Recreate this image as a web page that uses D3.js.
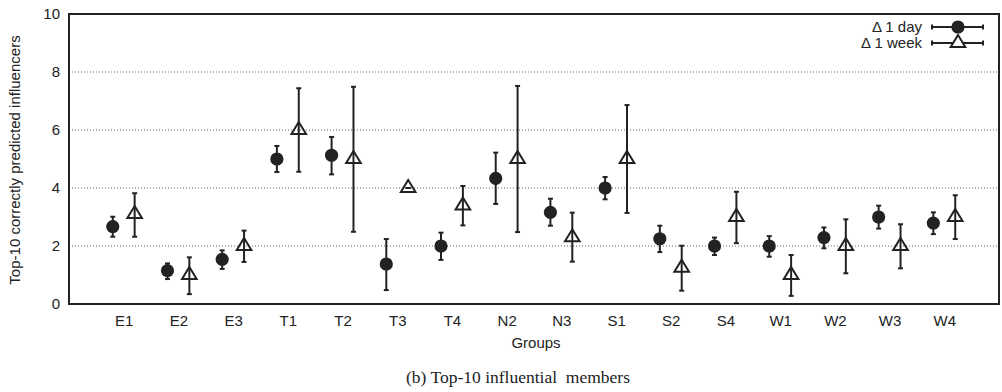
<!DOCTYPE html>
<html lang="en">

<head>
    <meta charset="utf-8">
    <title> Top-10 influencers </title>
    <script src="https://d3js.org/d3.v7.min.js"></script>
    <style>
        body { margin: 0; background: white; }
        text { font-family: "Liberation Sans", Arial, sans-serif; fill: #222; }
    </style>
</head>

<body>
    <div id="chart1"></div>

    <script>
        // data
        var groups = ["E1", "E2", "E3", "T1", "T2", "T3", "T4", "N2", "N3", "S1", "S2", "S4", "W1", "W2", "W3", "W4"];
        var dayMean = [2.67, 1.15, 1.54, 5.0, 5.13, 1.38, 2.0, 4.33, 3.16, 4.0, 2.25, 2.0, 2.0, 2.29, 3.0, 2.79];
        var dayLow = [2.32, 0.86, 1.21, 4.55, 4.47, 0.48, 1.52, 3.45, 2.70, 3.61, 1.79, 1.69, 1.63, 1.92, 2.60, 2.41];
        var dayHigh = [3.01, 1.40, 1.85, 5.45, 5.76, 2.24, 2.46, 5.22, 3.63, 4.38, 2.70, 2.29, 2.34, 2.64, 3.39, 3.16];
        var weekMean = [3.1, 1.0, 2.0, 6.0, 5.0, 4.0, 3.4, 5.0, 2.3, 5.0, 1.25, 3.0, 1.0, 2.0, 2.0, 3.0];
        var weekLow = [2.32, 0.34, 1.45, 4.56, 2.49, 4.0, 2.71, 2.48, 1.46, 3.14, 0.46, 2.10, 0.28, 1.06, 1.23, 2.24];
        var weekHigh = [3.82, 1.61, 2.53, 7.44, 7.49, 4.0, 4.07, 7.52, 3.15, 6.86, 2.01, 3.87, 1.69, 2.92, 2.75, 3.75];
        var yTicks = [0, 2, 4, 6, 8, 10];
        var gridTicks = [2, 4, 6, 8];

        var width = 1002,
            height = 392;
        var plot = { left: 69, right: 999, top: 14, bottom: 304 };
        var ink = "#222";

        var svg = d3.select("#chart1")
            .append("svg")
            .attr("width", width)
            .attr("height", height);

        var x = d3.scaleLinear().domain([0, 17]).range([plot.left, plot.right]);
        var y = d3.scaleLinear().domain([0, 10]).range([plot.bottom, plot.top]);

        // dotted grid lines
        svg.selectAll(".grid")
            .data(gridTicks)
            .enter()
            .append("line")
            .attr("x1", plot.left)
            .attr("x2", plot.right)
            .attr("y1", d => y(d))
            .attr("y2", d => y(d))
            .style("stroke", "#666")
            .style("stroke-width", 1)
            .style("stroke-dasharray", "1,2");

        // y axis labels, no tick marks
        var yAxis = d3.axisLeft(y).tickValues(yTicks).tickSize(0).tickPadding(9);
        svg.append("g")
            .attr("transform", "translate(" + plot.left + ",0)")
            .call(yAxis)
            .call(g => g.select(".domain").remove())
            .selectAll("text")
            .style("font-size", "15px")
            .style("fill", ink);

        // x axis group labels
        var xAxis = d3.axisBottom(x)
            .tickValues(d3.range(1, groups.length + 1))
            .tickFormat(d => groups[d - 1])
            .tickSize(0)
            .tickPadding(11);
        svg.append("g")
            .attr("transform", "translate(0," + plot.bottom + ")")
            .call(xAxis)
            .call(g => g.select(".domain").remove())
            .selectAll("text")
            .style("font-size", "15px")
            .style("fill", ink);

        // frame
        svg.append("rect")
            .attr("x", plot.left)
            .attr("y", plot.top)
            .attr("width", plot.right - plot.left)
            .attr("height", plot.bottom - plot.top)
            .style("fill", "none")
            .style("stroke", ink)
            .style("stroke-width", 2);

        // axis titles
        svg.append("text")
            .attr("transform", "translate(20,160) rotate(-90)")
            .attr("text-anchor", "middle")
            .style("font-size", "15px")
            .text("Top-10 correctly predicted influencers");

        svg.append("text")
            .attr("x", 536)
            .attr("y", 348)
            .attr("text-anchor", "middle")
            .style("font-size", "15px")
            .text("Groups");

        svg.append("text")
            .attr("x", 518)
            .attr("y", 383)
            .attr("text-anchor", "middle")
            .attr("xml:space", "preserve")
            .style("white-space", "pre")
            .style("font-family", "'Liberation Serif', 'Times New Roman', serif")
            .style("font-size", "17.5px")
            .text("(b) Top-10 influential  members");

        var triPath = "M0,-8 L7.3,4 L-7.3,4 Z";
        var cap = 2.5;

        function errorBars(mean, low, high, offset) {
            var rows = groups.map((g, i) => ({ pos: i + 1 + offset, m: mean[i], lo: low[i], hi: high[i] }));
            var g = svg.append("g").style("stroke", ink).style("stroke-width", 2);
            g.selectAll(".bar").data(rows).enter().append("line")
                .attr("x1", d => x(d.pos)).attr("x2", d => x(d.pos))
                .attr("y1", d => y(d.lo)).attr("y2", d => y(d.hi));
            g.selectAll(".capLo").data(rows).enter().append("line")
                .attr("x1", d => x(d.pos) - cap).attr("x2", d => x(d.pos) + cap)
                .attr("y1", d => y(d.lo)).attr("y2", d => y(d.lo));
            g.selectAll(".capHi").data(rows).enter().append("line")
                .attr("x1", d => x(d.pos) - cap).attr("x2", d => x(d.pos) + cap)
                .attr("y1", d => y(d.hi)).attr("y2", d => y(d.hi));
            return rows;
        }

        // delta 1 day: filled circles
        var dayRows = errorBars(dayMean, dayLow, dayHigh, -0.2);
        svg.selectAll(".day")
            .data(dayRows)
            .enter()
            .append("circle")
            .attr("cx", d => x(d.pos))
            .attr("cy", d => y(d.m))
            .attr("r", 6.6)
            .style("fill", ink);

        // delta 1 week: open triangles
        var weekRows = errorBars(weekMean, weekLow, weekHigh, 0.2);
        svg.selectAll(".week")
            .data(weekRows)
            .enter()
            .append("path")
            .attr("d", triPath)
            .attr("transform", d => "translate(" + x(d.pos) + "," + y(d.m) + ")")
            .style("fill", "none")
            .style("stroke", ink)
            .style("stroke-width", 2);

        // legend
        var legend = [
            { label: "\u0394 1 day", y: 27, shape: "circle" },
            { label: "\u0394 1 week", y: 43, shape: "tri" }
        ];
        var lg = svg.append("g");
        legend.forEach(function(d) {
            lg.append("text")
                .attr("x", 922)
                .attr("y", d.y)
                .attr("dy", "0.35em")
                .attr("text-anchor", "end")
                .style("font-size", "15px")
                .text(d.label);
            lg.append("line")
                .attr("x1", 932).attr("x2", 983)
                .attr("y1", d.y).attr("y2", d.y)
                .style("stroke", ink).style("stroke-width", 2);
            [932, 983].forEach(function(ex) {
                lg.append("line")
                    .attr("x1", ex).attr("x2", ex)
                    .attr("y1", d.y - 2.5).attr("y2", d.y + 2.5)
                    .style("stroke", ink).style("stroke-width", 2);
            });
            if (d.shape == "circle") {
                lg.append("circle").attr("cx", 958).attr("cy", d.y).attr("r", 6.6).style("fill", ink);
            } else {
                lg.append("path")
                    .attr("d", triPath)
                    .attr("transform", "translate(958," + d.y + ")")
                    .style("fill", "white")
                    .style("stroke", ink)
                    .style("stroke-width", 2);
            }
        });
    </script>

</body>

</html>
